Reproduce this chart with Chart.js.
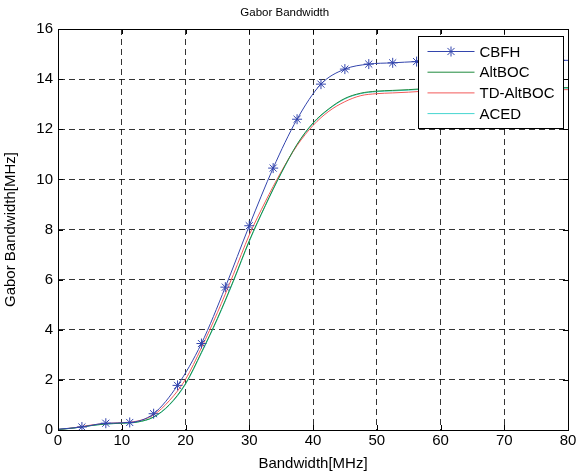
<!DOCTYPE html>
<html>
<head>
<meta charset="utf-8">
<script src="https://cdn.jsdelivr.net/npm/chart.js@4"></script>
<style>
  html, body { margin: 0; padding: 0; background: #fff; }
  canvas { display: block; }
</style>
</head>
<body>
<canvas id="gaborChart" width="584" height="475"></canvas>
<script>
// CBFH is sampled where the asterisk markers sit
const cbfhX = [0, 3.75, 7.5, 11.25, 15, 18.75, 22.5, 26.25, 30, 33.75, 37.5, 41.25, 45, 48.75, 52.5, 56.25, 60, 63.75, 67.5, 71.25, 75, 78.75, 80];
const cbfhY = [0.03, 0.12, 0.27, 0.3, 0.65, 1.78, 3.45, 5.7, 8.15, 10.45, 12.4, 13.8, 14.4, 14.6, 14.65, 14.7, 14.72, 14.73, 14.74, 14.75, 14.75, 14.75, 14.75];

// the other three curves
const bwX = [0, 2.5, 5, 7.5, 10, 12.5, 15, 17.5, 20, 22.5, 25, 27.5, 30, 32.5, 35, 37.5, 40, 42.5, 45, 47.5, 50, 52.5, 55, 57.5, 60, 65, 70, 75, 80];
const altbocY = [0.02, 0.08, 0.17, 0.24, 0.27, 0.32, 0.52, 1.02, 1.85, 3.1, 4.45, 5.95, 7.55, 8.95, 10.25, 11.4, 12.25, 12.82, 13.23, 13.44, 13.52, 13.55, 13.58, 13.62, 13.64, 13.65, 13.66, 13.66, 13.66];
const tdAltbocY = [0.02, 0.09, 0.19, 0.26, 0.29, 0.36, 0.6, 1.18, 2.02, 3.28, 4.68, 6.2, 7.78, 9.1, 10.3, 11.35, 12.15, 12.72, 13.1, 13.34, 13.42, 13.45, 13.48, 13.52, 13.55, 13.56, 13.57, 13.58, 13.58];
const acedY = [0.02, 0.08, 0.17, 0.24, 0.27, 0.32, 0.51, 1.0, 1.82, 3.07, 4.42, 5.92, 7.52, 8.93, 10.23, 11.38, 12.23, 12.8, 13.21, 13.42, 13.5, 13.53, 13.56, 13.6, 13.62, 13.63, 13.64, 13.64, 13.64];

const xTicks = [0, 10, 20, 30, 40, 50, 60, 70, 80];
const yTicks = [0, 2, 4, 6, 8, 10, 12, 14, 16];

const FONT = "'Liberation Sans', Arial, Helvetica, sans-serif";

const toPoints = (xs, ys) => xs.map((x, i) => ({ x: x, y: ys[i] }));

// box round the plot + small inward ticks on all four sides
const framePlugin = {
    id: "frame",
    afterDatasetsDraw(chart) {
        const { ctx, chartArea: a, scales } = chart;
        ctx.save();
        ctx.strokeStyle = "#000";
        ctx.lineWidth = 1;
        ctx.setLineDash([]);
        ctx.strokeRect(Math.round(a.left) + 0.5, Math.round(a.top) + 0.5,
            Math.round(a.right - a.left), Math.round(a.bottom - a.top));
        const len = 5;
        ctx.beginPath();
        xTicks.forEach(v => {
            const px = Math.round(scales.x.getPixelForValue(v)) + 0.5;
            ctx.moveTo(px, a.bottom); ctx.lineTo(px, a.bottom - len);
            ctx.moveTo(px, a.top); ctx.lineTo(px, a.top + len);
        });
        yTicks.forEach(v => {
            const py = Math.round(scales.y.getPixelForValue(v)) + 0.5;
            ctx.moveTo(a.left, py); ctx.lineTo(a.left + len, py);
            ctx.moveTo(a.right, py); ctx.lineTo(a.right - len, py);
        });
        ctx.stroke();
        ctx.restore();
    }
};

function drawStar(ctx, cx, cy, r) {
    const d = r * Math.SQRT1_2;
    ctx.beginPath();
    ctx.moveTo(cx - r, cy); ctx.lineTo(cx + r, cy);
    ctx.moveTo(cx, cy - r); ctx.lineTo(cx, cy + r);
    ctx.moveTo(cx - d, cy - d); ctx.lineTo(cx + d, cy + d);
    ctx.moveTo(cx - d, cy + d); ctx.lineTo(cx + d, cy - d);
    ctx.stroke();
}

// MATLAB style legend in the top right corner of the axes
const boxLegend = {
    id: "boxLegend",
    afterDraw(chart) {
        const { ctx, chartArea: a } = chart;
        const w = 145, h = 92;
        const x0 = Math.round(a.right - 5 - w) + 0.5;
        const y0 = Math.round(a.top + 7) + 0.5;
        ctx.save();
        ctx.fillStyle = "#fff";
        ctx.fillRect(x0, y0, w, h);
        ctx.strokeStyle = "#000";
        ctx.lineWidth = 1;
        ctx.strokeRect(x0, y0, w, h);
        ctx.font = "15px " + FONT;
        ctx.textBaseline = "middle";
        chart.data.datasets.forEach((ds, i) => {
            const y = y0 + 15 + i * 20.7;
            ctx.strokeStyle = ds.borderColor;
            ctx.lineWidth = 1;
            ctx.beginPath();
            ctx.moveTo(x0 + 9, y); ctx.lineTo(x0 + 56, y);
            ctx.stroke();
            if (ds.pointStyle === "star") drawStar(ctx, x0 + 32.5, y, 5);
            ctx.fillStyle = "#000";
            ctx.fillText(ds.label, x0 + 61, y + 1);
        });
        ctx.restore();
    }
};

const lineSet = (label, color, data, extra) => Object.assign({
    label: label,
    data: data,
    borderColor: color,
    backgroundColor: color,
    borderWidth: 1,
    pointRadius: 0,
    fill: false,
    cubicInterpolationMode: "monotone"
}, extra || {});

new Chart(document.getElementById("gaborChart"), {
    type: "line",
    data: {
        datasets: [
            lineSet("CBFH", "#3345ad", toPoints(cbfhX, cbfhY), {
                pointStyle: "star",
                pointRadius: cbfhX.map((x, i) => (i === 0 || i === cbfhX.length - 1) ? 0 : 5),
                pointBorderColor: "#3345ad",
                pointBorderWidth: 1
            }),
            lineSet("AltBOC", "#1f8a3e", toPoints(bwX, altbocY)),
            lineSet("TD-AltBOC", "#f25a5a", toPoints(bwX, tdAltbocY)),
            lineSet("ACED", "#45d6d0", toPoints(bwX, acedY))
        ]
    },
    options: {
        responsive: false,
        animation: false,
        events: [],
        layout: { padding: { left: 1.5, right: 16, top: 0, bottom: 2 } },
        plugins: {
            legend: { display: false },
            tooltip: { enabled: false },
            title: {
                display: true,
                text: "Gabor Bandwidth",
                color: "#000",
                font: { family: FONT, size: 11.5, weight: "normal" },
                padding: { top: 5.5, bottom: 9.7 }
            }
        },
        scales: {
            x: {
                type: "linear",
                min: 0,
                max: 80,
                afterFit: s => { s.height = 43; },
                ticks: {
                    stepSize: 10,
                    color: "#000",
                    padding: 2,
                    maxRotation: 0,
                    font: { family: FONT, size: 15 }
                },
                grid: { color: "rgba(0,0,0,0.8)", lineWidth: 1, drawTicks: false },
                border: { display: true, color: "#000", dash: [6, 4] },
                title: {
                    display: true,
                    text: "Bandwidth[MHz]",
                    color: "#000",
                    padding: 0,
                    font: { family: FONT, size: 15 }
                }
            },
            y: {
                min: 0,
                max: 16,
                afterFit: s => { s.width = 56.5; },
                ticks: {
                    stepSize: 2,
                    color: "#000",
                    padding: 5,
                    font: { family: FONT, size: 15 }
                },
                grid: { color: "rgba(0,0,0,0.8)", lineWidth: 1, drawTicks: false },
                border: { display: true, color: "#000", dash: [6, 4] },
                title: {
                    display: true,
                    text: "Gabor Bandwidth[MHz]",
                    color: "#000",
                    padding: 0,
                    font: { family: FONT, size: 15 }
                }
            }
        }
    },
    plugins: [framePlugin, boxLegend]
});
</script>
</body>
</html>
